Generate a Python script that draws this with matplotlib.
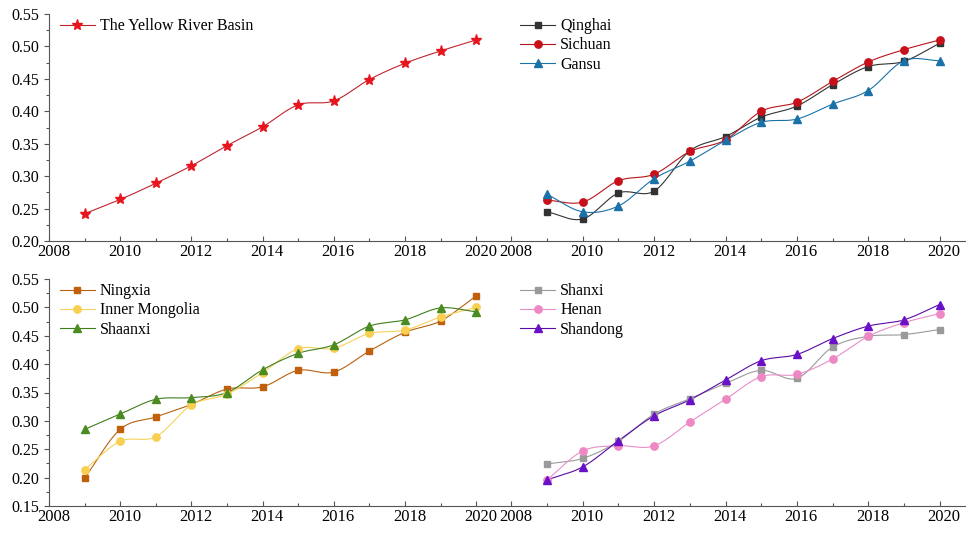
import numpy as np
import matplotlib
matplotlib.use("Agg")
import matplotlib.pyplot as plt
from matplotlib.lines import Line2D
from matplotlib.transforms import ScaledTranslation

plt.rcParams['font.family'] = ['Liberation Serif', 'DejaVu Serif']
plt.rcParams['font.size'] = 12

years = [2009, 2010, 2011, 2012, 2013, 2014, 2015, 2016, 2017, 2018, 2019, 2020]

yellow_river = [0.242, 0.264, 0.289, 0.316, 0.347, 0.376, 0.410, 0.416, 0.449, 0.474, 0.493, 0.510]

qinghai = [0.245, 0.234, 0.274, 0.277, 0.339, 0.361, 0.391, 0.408, 0.441, 0.469, 0.477, 0.505]
sichuan = [0.263, 0.260, 0.293, 0.303, 0.338, 0.356, 0.400, 0.414, 0.446, 0.476, 0.495, 0.510]
gansu = [0.272, 0.245, 0.254, 0.296, 0.323, 0.355, 0.383, 0.388, 0.411, 0.432, 0.478, 0.478]

ningxia = [0.199, 0.285, 0.307, 0.329, 0.356, 0.360, 0.389, 0.386, 0.423, 0.456, 0.476, 0.520]
inner_mongolia = [0.214, 0.264, 0.272, 0.328, 0.347, 0.385, 0.427, 0.428, 0.454, 0.460, 0.483, 0.500]
shaanxi = [0.285, 0.312, 0.338, 0.341, 0.350, 0.390, 0.419, 0.434, 0.467, 0.478, 0.499, 0.492]

shanxi = [0.224, 0.234, 0.264, 0.312, 0.339, 0.366, 0.389, 0.375, 0.430, 0.449, 0.452, 0.461]
henan = [0.196, 0.247, 0.256, 0.256, 0.298, 0.338, 0.378, 0.382, 0.409, 0.449, 0.473, 0.489]
shandong = [0.196, 0.219, 0.265, 0.309, 0.337, 0.372, 0.406, 0.417, 0.445, 0.467, 0.478, 0.505]

x_ticks = [2008, 2010, 2012, 2014, 2016, 2018, 2020]


def spline_path(x, y, n=20):
    """Catmull-Rom curve through the points, used for the connecting line."""
    x = np.asarray(x, float)
    y = np.asarray(y, float)
    px = np.concatenate([[2 * x[0] - x[1]], x, [2 * x[-1] - x[-2]]])
    py = np.concatenate([[2 * y[0] - y[1]], y, [2 * y[-1] - y[-2]]])
    xs, ys = [], []
    t = np.linspace(0, 1, n, endpoint=False)
    for i in range(1, len(px) - 2):
        p0, p1, p2, p3 = py[i - 1], py[i], py[i + 1], py[i + 2]
        q0, q1, q2, q3 = px[i - 1], px[i], px[i + 1], px[i + 2]
        yy = 0.5 * (2 * p1 + (-p0 + p2) * t + (2 * p0 - 5 * p1 + 4 * p2 - p3) * t ** 2
                    + (-p0 + 3 * p1 - 3 * p2 + p3) * t ** 3)
        xx = 0.5 * (2 * q1 + (-q0 + q2) * t + (2 * q0 - 5 * q1 + 4 * q2 - q3) * t ** 2
                    + (-q0 + 3 * q1 - 3 * q2 + q3) * t ** 3)
        xs.append(xx)
        ys.append(yy)
    xs.append([x[-1]])
    ys.append([y[-1]])
    return np.concatenate(xs), np.concatenate(ys)


def draw_series(ax, values, label, line_color, marker, marker_color, ms):
    sx, sy = spline_path(years, values)
    ax.plot(sx, sy, color=line_color, lw=0.8, zorder=2)
    ax.plot(years, values, ls='none', marker=marker, ms=ms, color=marker_color,
            mec=marker_color, zorder=3)
    return Line2D([], [], color=line_color, lw=0.8, marker=marker, ms=ms,
                  mfc=marker_color, mec=marker_color, label=label)


fig = plt.figure(figsize=(9.66, 5.33), dpi=100)

W, H = 966.0, 533.0
left_x0, split_x = 49 / W, 490 / W
top_y0, top_y1 = 1 - 241 / H, 1 - 14 / H
bot_y0, bot_y1 = 1 - 506 / H, 1 - 279 / H

ax_tl = fig.add_axes([left_x0, top_y0, split_x - left_x0, top_y1 - top_y0])
ax_tr = fig.add_axes([split_x, top_y0, 1 - split_x, top_y1 - top_y0])
ax_bl = fig.add_axes([left_x0, bot_y0, split_x - left_x0, bot_y1 - bot_y0])
ax_br = fig.add_axes([split_x, bot_y0, 1 - split_x, bot_y1 - bot_y0])

spine_col = '#555555'
label_shift = ScaledTranslation(4.5 / 100, 0, fig.dpi_scale_trans)
for ax, ylim, has_y in [(ax_tl, (0.20, 0.55), True), (ax_tr, (0.20, 0.55), False),
                        (ax_bl, (0.15, 0.55), True), (ax_br, (0.15, 0.55), False)]:
    ax.set_ylim(*ylim)
    ax.spines['top'].set_visible(False)
    ax.spines['right'].set_visible(False)
    ax.spines['bottom'].set_color(spine_col)
    ax.spines['left'].set_color(spine_col)
    ax.set_xticks(x_ticks)
    ax.set_xticks(range(2009, 2021, 2), minor=True)
    ax.tick_params(axis='x', which='major', direction='in', length=3.5, width=0.8,
                   color=spine_col, pad=2.5, labelsize=12)
    ax.tick_params(axis='x', which='minor', direction='in', length=2, width=0.8,
                   color=spine_col)
    for lbl in ax.get_xticklabels():
        lbl.set_transform(lbl.get_transform() + label_shift)
    ax.patch.set_alpha(0)
    if has_y:
        ax.set_xlim(2008, 2020.39)
        lo, hi = ylim
        ax.set_yticks(np.round(np.arange(lo, hi + 1e-9, 0.05), 2))
        ax.set_yticks(np.round(np.arange(lo + 0.025, hi, 0.05), 3), minor=True)
        ax.yaxis.set_major_formatter(matplotlib.ticker.FormatStrFormatter('%.2f'))
        ax.tick_params(axis='y', which='major', direction='out', length=3.5, width=0.8,
                       color=spine_col, pad=3.5, labelsize=11.5)
        ax.tick_params(axis='y', which='minor', direction='out', length=2, width=0.8,
                       color=spine_col)
    else:
        ax.set_xlim(2007.40, 2020.74)
        ax.spines['left'].set_visible(False)
        ax.set_yticks([])

leg_kw = dict(loc='upper left', frameon=False, handlelength=2.2, handletextpad=0.3,
              labelspacing=0.2, borderaxespad=0.0, fontsize=11.5)

h = [draw_series(ax_tl, yellow_river, 'The Yellow River Basin', '#c0252e', '*', '#e8141e', 8)]
ax_tl.legend(handles=h, bbox_to_anchor=(0.01, 1.01), **leg_kw)

h = [draw_series(ax_tr, qinghai, 'Qinghai', '#333333', 's', '#333333', 4.8),
     draw_series(ax_tr, sichuan, 'Sichuan', '#b8141c', 'o', '#c8101a', 5.3),
     draw_series(ax_tr, gansu, 'Gansu', '#1a72a8', '^', '#1a72a8', 5.8)]
ax_tr.legend(handles=h, bbox_to_anchor=(0.05, 1.01), **leg_kw)

h = [draw_series(ax_bl, ningxia, 'Ningxia', '#b8610e', 's', '#c0600c', 4.8),
     draw_series(ax_bl, inner_mongolia, 'Inner Mongolia', '#f5d25a', 'o', '#f8cf50', 5.3),
     draw_series(ax_bl, shaanxi, 'Shaanxi', '#3e7f1c', '^', '#4a8c22', 5.8)]
ax_bl.legend(handles=h, bbox_to_anchor=(0.01, 1.01), **leg_kw)

h = [draw_series(ax_br, shanxi, 'Shanxi', '#9a9a9a', 's', '#9a9a9a', 4.8),
     draw_series(ax_br, henan, 'Henan', '#e88ec8', 'o', '#ee88c4', 5.3),
     draw_series(ax_br, shandong, 'Shandong', '#5a0aa8', '^', '#6a10c8', 5.8)]
ax_br.legend(handles=h, bbox_to_anchor=(0.05, 1.01), **leg_kw)

fig.savefig('out.png', dpi=100)
